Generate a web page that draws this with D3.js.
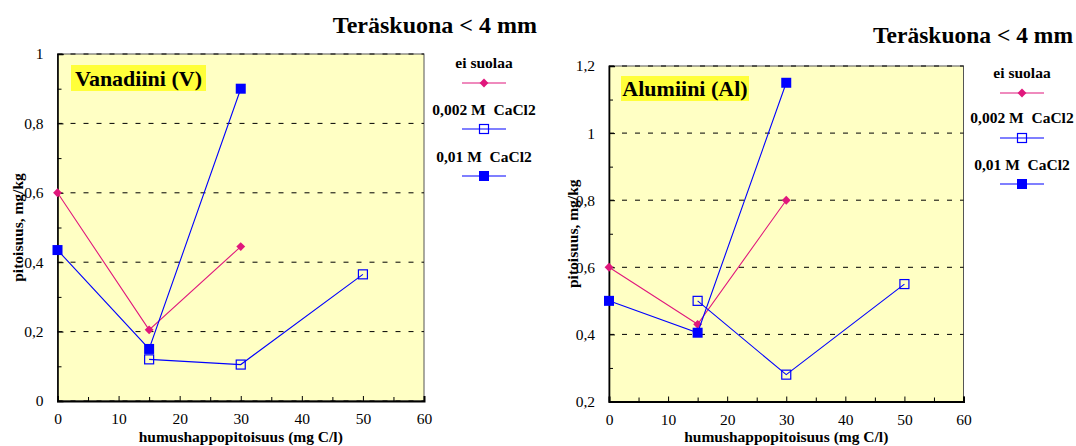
<!DOCTYPE html>
<html>
<head>
<meta charset="utf-8">
<script src="https://cdn.jsdelivr.net/npm/d3@7"></script>
<style>
  html, body { margin: 0; padding: 0; background: #ffffff; }
  svg { display: block; }
  text { font-family: "Liberation Serif", "Times New Roman", serif; fill: #000; }
  .legend-text { white-space: pre; }
</style>
</head>
<body>
<svg id="chart" width="1076" height="446"></svg>
<script>
// Humic acid concentration (mg C/l) at which each leaching series was measured
const humicX_noSalt = [0, 15, 30];
const humicX_cacl002 = [15, 30, 50];
const humicX_cacl01 = [0, 15, 30];

// Vanadium concentrations, mg/kg
const vanadium_noSalt = [0.6, 0.205, 0.445];
const vanadium_cacl002 = [0.12, 0.105, 0.365];
const vanadium_cacl01 = [0.435, 0.15, 0.9];

// Aluminium concentrations, mg/kg
const aluminium_noSalt = [0.6, 0.43, 0.8];
const aluminium_cacl002 = [0.5, 0.28, 0.55];
const aluminium_cacl01 = [0.5, 0.405, 1.15];

// Axis ticks
const xTicks = [0, 10, 20, 30, 40, 50, 60];
const xMinorTicks = [5, 15, 25, 35, 45, 55];
const vanadiumYTicks = [0, 0.2, 0.4, 0.6, 0.8, 1];
const vanadiumYMinor = [0.1, 0.3, 0.5, 0.7, 0.9];
const aluminiumYTicks = [0.2, 0.4, 0.6, 0.8, 1, 1.2];
const aluminiumYMinor = [0.3, 0.5, 0.7, 0.9, 1.1];

// Series names shown in the legend
const seriesNames = ["ei suolaa", "0,002 M  CaCl2", "0,01 M  CaCl2"];

const titleText = "Teräskuona < 4 mm";
const xTitle = "humushappopitoisuus (mg C/l)";
const yTitle = "pitoisuus, mg/kg";

const PINK = "#e0177c";
const BLUE = "#0000ff";
const PLOT_BG = "#ffffc4";
const LABEL_BG = "#ffff3a";

const fmt = v => String(+v.toFixed(2)).replace(".", ",");

const svg = d3.select("#chart");

function drawPanel(cfg) {
  const g = svg.append("g");
  const x = d3.scaleLinear().domain([0, 60]).range([cfg.x0, cfg.x1]);
  const y = d3.scaleLinear().domain(cfg.yDomain).range([cfg.y1, cfg.y0]);

  // plot background
  g.append("rect")
    .attr("x", cfg.x0).attr("y", cfg.y0)
    .attr("width", cfg.x1 - cfg.x0).attr("height", cfg.y1 - cfg.y0)
    .attr("fill", PLOT_BG).attr("stroke", "#555").attr("stroke-width", 1);

  // dashed horizontal grid at the major ticks
  g.append("g").selectAll("line").data(cfg.yTicks).join("line")
    .attr("x1", cfg.x0).attr("x2", cfg.x1)
    .attr("y1", d => y(d)).attr("y2", d => y(d))
    .attr("stroke", "#000").attr("stroke-width", 1)
    .attr("stroke-dasharray", "5,8");

  // left axis: inward ticks, labels
  const yAxis = d3.axisLeft(y).tickValues(cfg.yTicks).tickFormat(fmt).tickSize(-6).tickPadding(14);
  const ya = g.append("g").attr("transform", `translate(${cfg.x0},0)`).call(yAxis);
  ya.select(".domain").attr("stroke", "#000").attr("stroke-width", 1.6);
  ya.selectAll("text").style("font-size", "15.5px");
  const yMinor = d3.axisLeft(y).tickValues(cfg.yMinor).tickFormat("").tickSize(-4);
  const ym = g.append("g").attr("transform", `translate(${cfg.x0},0)`).call(yMinor);
  ym.select(".domain").remove();

  // bottom axis: inward ticks, labels
  const xAxis = d3.axisBottom(x).tickValues(xTicks).tickFormat(d3.format("d")).tickSize(-5).tickPadding(12);
  const xa = g.append("g").attr("transform", `translate(0,${cfg.y1})`).call(xAxis);
  xa.select(".domain").attr("stroke", "#000").attr("stroke-width", 2);
  xa.selectAll("text").style("font-size", "15.5px");
  const xMinor = d3.axisBottom(x).tickValues(xMinorTicks).tickFormat("").tickSize(-4);
  const xm = g.append("g").attr("transform", `translate(0,${cfg.y1})`).call(xMinor);
  xm.select(".domain").remove();
  g.selectAll(".tick line").attr("stroke", "#000").attr("stroke-width", 1);

  // axis titles
  g.append("text")
    .attr("x", (cfg.x0 + cfg.x1) / 2).attr("y", 442)
    .attr("text-anchor", "middle")
    .style("font-size", "15.5px").style("font-weight", "bold")
    .text(xTitle);
  g.append("text")
    .attr("transform", `translate(${cfg.yTitleX},${(cfg.y0 + cfg.y1) / 2}) rotate(-90)`)
    .attr("text-anchor", "middle")
    .style("font-size", "15.5px").style("font-weight", "bold")
    .text(yTitle);

  // chart title
  g.append("text")
    .attr("x", cfg.titleX).attr("y", cfg.titleY)
    .attr("text-anchor", "end")
    .style("font-size", cfg.titleSize).style("font-weight", "bold")
    .text(titleText);

  // element label box
  const lbl = g.append("g");
  lbl.append("rect")
    .attr("x", cfg.label.x).attr("y", cfg.label.y)
    .attr("width", cfg.label.w).attr("height", cfg.label.h)
    .attr("fill", LABEL_BG);
  lbl.append("text")
    .attr("x", cfg.label.x + cfg.label.w / 2).attr("y", cfg.label.y + cfg.label.h - 5)
    .attr("text-anchor", "middle")
    .style("font-size", "22px").style("font-weight", "bold")
    .text(cfg.label.text);

  // series
  const line = d3.line().x(d => x(d[0])).y(d => y(d[1]));
  const series = [
    { xs: humicX_noSalt, ys: cfg.data[0], color: PINK, marker: "diamond" },
    { xs: humicX_cacl002, ys: cfg.data[1], color: BLUE, marker: "open" },
    { xs: humicX_cacl01, ys: cfg.data[2], color: BLUE, marker: "filled" }
  ];

  function marker(sel, kind, color) {
    if (kind === "diamond") {
      sel.append("path").attr("d", d3.symbol(d3.symbolDiamond2, 50)())
        .attr("fill", color).attr("stroke", "none");
    } else if (kind === "open") {
      sel.append("rect").attr("x", -4.5).attr("y", -4.5).attr("width", 9).attr("height", 9)
        .attr("fill", "none").attr("stroke", color).attr("stroke-width", 1.2);
    } else {
      sel.append("rect").attr("x", -5).attr("y", -5).attr("width", 10).attr("height", 10)
        .attr("fill", color);
    }
  }

  series.forEach(s => {
    const pts = s.xs.map((v, i) => [v, s.ys[i]]);
    g.append("path").datum(pts)
      .attr("d", line).attr("fill", "none")
      .attr("stroke", s.color).attr("stroke-width", 1.1);
    g.append("g").selectAll("g").data(pts).join("g")
      .attr("transform", d => `translate(${x(d[0])},${y(d[1])})`)
      .each(function () { marker(d3.select(this), s.marker, s.color); });
  });

  // legend
  series.forEach((s, i) => {
    const lg = g.append("g");
    lg.append("text")
      .attr("class", "legend-text")
      .attr("x", cfg.legendX).attr("y", cfg.legendText[i])
      .attr("text-anchor", "middle")
      .style("font-size", "15.5px").style("font-weight", "bold")
      .text(seriesNames[i]);
    lg.append("line")
      .attr("x1", cfg.legendX - 22).attr("x2", cfg.legendX + 22)
      .attr("y1", cfg.legendLine[i]).attr("y2", cfg.legendLine[i])
      .attr("stroke", s.color).attr("stroke-width", 1.2);
    const m = lg.append("g").attr("transform", `translate(${cfg.legendX},${cfg.legendLine[i]})`);
    marker(m, s.marker, s.color);
  });
}

drawPanel({
  x0: 57.5, x1: 424, y0: 54, y1: 401,
  yDomain: [0, 1], yTicks: vanadiumYTicks, yMinor: vanadiumYMinor,
  data: [vanadium_noSalt, vanadium_cacl002, vanadium_cacl01],
  yTitleX: 23,
  titleX: 537, titleY: 33, titleSize: "24px",
  label: { x: 71, y: 65, w: 135, h: 26, text: "Vanadiini (V)" },
  legendX: 484, legendText: [68, 115, 162], legendLine: [83, 129, 176]
});

drawPanel({
  x0: 609, x1: 963.5, y0: 66, y1: 401.5,
  yDomain: [0.2, 1.2], yTicks: aluminiumYTicks, yMinor: aluminiumYMinor,
  data: [aluminium_noSalt, aluminium_cacl002, aluminium_cacl01],
  yTitleX: 578,
  titleX: 1073, titleY: 43, titleSize: "23.5px",
  label: { x: 621, y: 76, w: 128, h: 25, text: "Alumiini (Al)" },
  legendX: 1022, legendText: [78, 123, 170], legendLine: [93, 138, 184]
});
</script>
</body>
</html>
